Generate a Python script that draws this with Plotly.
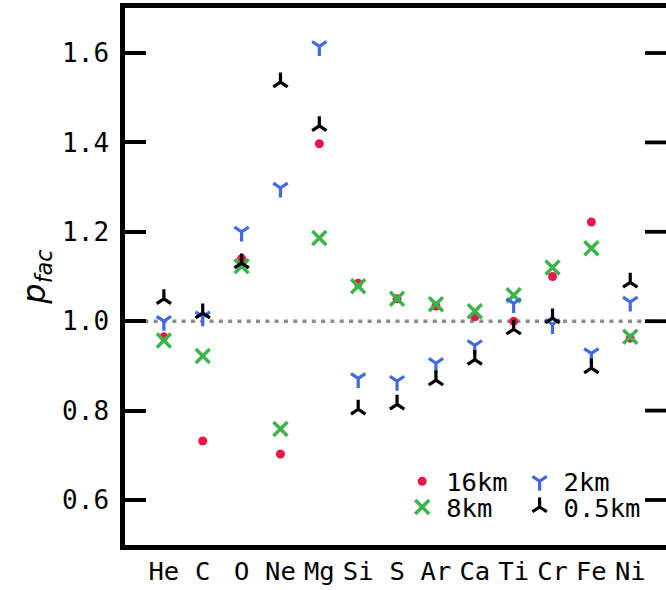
import plotly.graph_objects as go

elements = ["He", "C", "O", "Ne", "Mg", "Si", "S", "Ar", "Ca", "Ti", "Cr", "Fe", "Ni"]
p16 = [0.965, 0.732, 1.140, 0.703, 1.397, 1.085, 1.050, 1.034, 1.010, 1.000, 1.100, 1.222, 0.962]
p8 = [0.957, 0.922, 1.123, 0.759, 1.186, 1.078, 1.050, 1.038, 1.022, 1.058, 1.120, 1.163, 0.965]
p2 = [1.000, 1.010, 1.200, 1.298, 1.615, 0.872, 0.866, 0.906, 0.946, 1.040, 0.993, 0.928, 1.043]
p05 = [1.050, 1.018, 1.130, 1.535, 1.437, 0.803, 0.814, 0.868, 0.914, 0.982, 1.007, 0.895, 1.087]
yticks = [0.6, 0.8, 1.0, 1.2, 1.4, 1.6]

xs = list(range(len(elements)))
mono = "DejaVu Sans Mono"

fig = go.Figure()
fig.add_trace(go.Scatter(x=[-0.5, len(elements) - 0.5], y=[1.0, 1.0], mode="lines",
                         line=dict(color="#8c8c8c", width=3.5, dash="4px,5.3px"), showlegend=False))
fig.add_trace(go.Scatter(x=xs, y=p16, mode="markers", name="16km", legend="legend",
                         marker=dict(symbol="circle", size=9, color="#e8174a")))
fig.add_trace(go.Scatter(x=xs, y=p8, mode="markers", name="8km", legend="legend3",
                         marker=dict(symbol="x-thin", size=14, color="#3cb44b",
                                     line=dict(color="#3cb44b", width=3.5))))
fig.add_trace(go.Scatter(x=xs, y=p2, mode="markers", name="2km", legend="legend2",
                         marker=dict(symbol="y-down", size=12, color="#4169e1",
                                     line=dict(color="#4169e1", width=3.2))))
fig.add_trace(go.Scatter(x=xs, y=p05, mode="markers", name="0.5km", legend="legend4",
                         marker=dict(symbol="y-up", size=12, color="black",
                                     line=dict(color="black", width=3.2))))

# right-hand inward ticks (the right spine itself lies just beyond the visible edge)
for v in yticks:
    fig.add_shape(type="line", xref="paper", yref="y", x0=1 - 21 / 541, x1=1.02, y0=v, y1=v,
                  line=dict(color="black", width=3.8), layer="above")

def leg(x, y):
    return dict(x=x, y=y, xanchor="left", yanchor="middle", bgcolor="rgba(0,0,0,0)",
                font=dict(family=mono, size=25.5), itemwidth=38)

fig.update_layout(
    width=666, height=590,
    margin=dict(l=125, r=0, t=8, b=45),
    plot_bgcolor="white", paper_bgcolor="white",
    font=dict(family=mono, size=25.5, color="black"),
    xaxis=dict(range=[-1, 12.92], tickmode="array", tickvals=xs, ticktext=elements,
               showgrid=False, zeroline=False, showline=True, linecolor="black",
               linewidth=4.5, mirror=True, ticks="", ticklabelstandoff=0, automargin=False,
               tickfont=dict(family=mono, size=25.5)),
    yaxis=dict(range=[0.4993, 1.7007], tickmode="array", tickvals=yticks,
               ticktext=[f"{v:.1f}" for v in yticks],
               showgrid=False, zeroline=False, showline=True, linecolor="black",
               linewidth=4.5, mirror=False, ticks="inside", ticklen=21, tickwidth=3.8,
               tickcolor="black", ticklabelstandoff=6, automargin=False,
               tickfont=dict(family=mono, size=26),
               title=dict(text="<i>p</i><sub><i>fac</i></sub>",
                          font=dict(family="DejaVu Sans", size=32), standoff=8)),
    legend=leg(0.505, 0.118),
    legend3=leg(0.505, 0.070),
    legend2=leg(0.722, 0.118),
    legend4=leg(0.722, 0.070),
)

fig.write_html("out.html", config={"displayModeBar": False},
               post_script="document.body.style.margin='0';document.body.style.overflow='hidden';")
